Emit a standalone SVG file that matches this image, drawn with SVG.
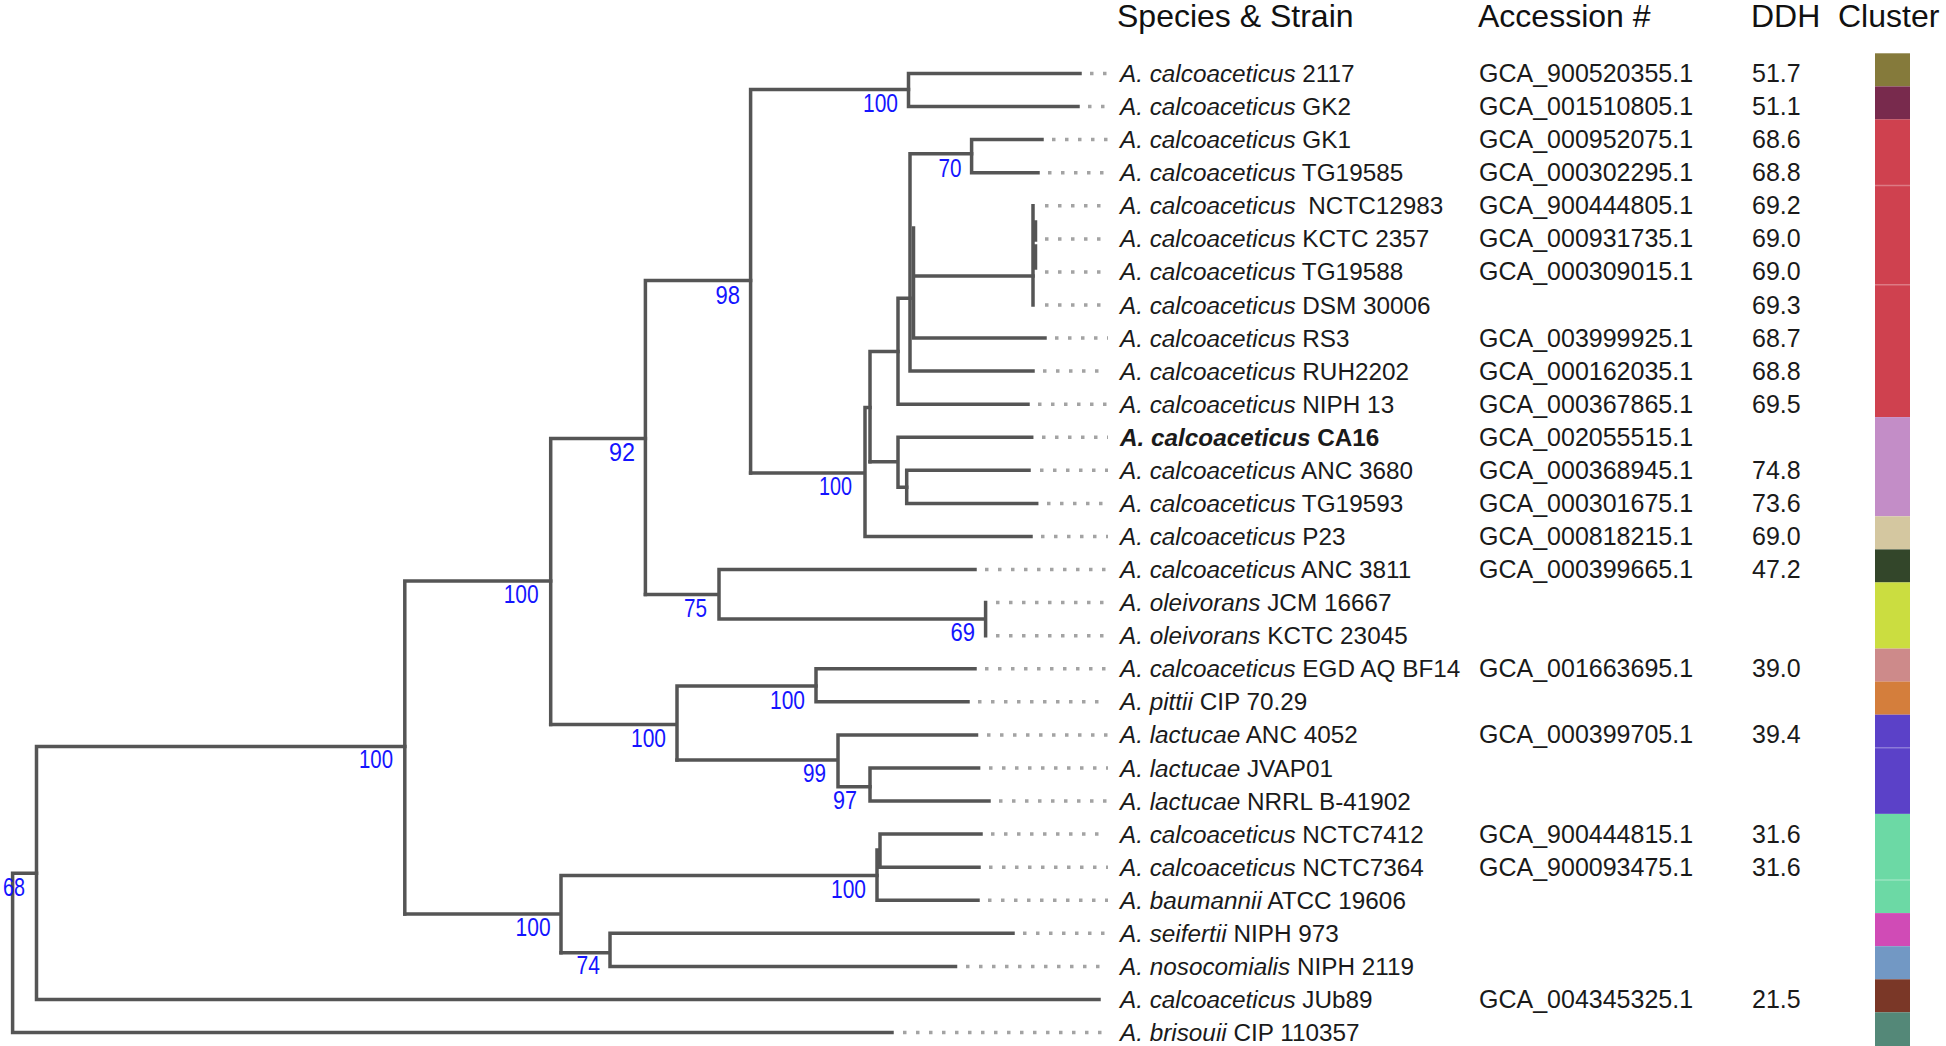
<svg xmlns="http://www.w3.org/2000/svg" width="1946" height="1046" viewBox="0 0 1946 1046">
<style>
.br{fill:none;stroke:#555;stroke-width:3.5;stroke-linecap:square}
.dot{fill:none;stroke:#a3a3a3;stroke-width:3.5;stroke-dasharray:3.5 9.5}
.sup{font-family:"Liberation Sans",Arial,sans-serif;font-size:26px;fill:#1414ff}
.t{font-family:"Liberation Sans",Arial,sans-serif;font-size:25px;fill:#1a1a1a}
.sp{font-family:"Liberation Sans",Arial,sans-serif;font-size:24.3px;fill:#1a1a1a}
.hdr{font-family:"Liberation Sans",Arial,sans-serif;font-size:32px;fill:#111}
.i{font-style:italic}
.sep{stroke:#ffffff;stroke-opacity:0.3;stroke-width:1.5}
</style>
<rect width="1946" height="1046" fill="#ffffff"/>

<g id="headers">
<text class="hdr" x="1117" y="27">Species &amp; Strain</text>
<text class="hdr" x="1478" y="27">Accession #</text>
<text class="hdr" x="1751" y="27">DDH</text>
<text class="hdr" x="1838" y="27">Cluster</text>
</g>

<g id="connectors">
<g class="br">
<path d="M12.6 873.3V1032.5H892M12.6 873.3H36.5"/>
<path d="M36.5 746.4V999.5H1099M36.5 746.4H404.8"/>
<path d="M404.8 581V914M404.8 581H550.7"/>
<path d="M550.7 438.5V724.6M550.7 438.5H645.4"/>
<path d="M645.4 280.6V594.5M645.4 280.6H750.6"/>
<path d="M750.6 89.6V473M750.6 89.6H908.5"/>
<path d="M908.5 73.5V106.6M908.5 73.5H1080M908.5 106.6H1078"/>
<path d="M750.6 473H865M865 407.4V536.5M865 536.5H1031M865 407.4H870"/>
<path d="M870 351.6V461.7M870 351.6H898"/>
<path d="M898 298.3V404.2M898 404.2H1028M898 298.3H910"/>
<path d="M910 153.8V371.1M910 371.1H1033M910 153.8H971.6"/>
<path d="M971.6 139.6V172.7M971.6 139.6H1042M971.6 172.7H1038"/>
<path d="M913.5 228V338.1M913.5 276H1033M913.5 338.1H1045"/>
<path d="M1033 205.8V305M1035.5 222V240M1035.5 246V268"/>
<path d="M870 461.7H898M898 437.3V487.3M898 437.3H1031.7M898 487.3H906.7"/>
<path d="M906.7 470.3V503.4M906.7 470.3H1029M906.7 503.4H1036.7"/>
<path d="M645.4 594.5H719M719 569.6V619M719 569.6H975M719 619H985.6M985.6 602.6V635.7"/>
<path d="M550.7 724.6H677M677 686V759.9M677 686H816"/>
<path d="M816 668.8V701.8M816 668.8H975M816 701.8H968"/>
<path d="M677 759.9H838M838 734.9V786.7M838 734.9H976.5M838 786.7H870"/>
<path d="M870 768V801M870 768H978.6M870 801H989"/>
<path d="M404.8 914H561M561 875.6V952.7M561 875.6H877"/>
<path d="M877 850V900.3M877 850H880M880 834.1V867.2M880 834.1H981M880 867.2H979M877 900.3H978"/>
<path d="M561 952.7H610M610 933.3V966.4M610 933.3H1013M610 966.4H955.5"/>
</g>
<g class="dot">
<path d="M1090 73.5H1108M1088 106.6H1108M1052 139.6H1108M1048 172.7H1108M1045 205.8H1108M1045 238.9H1108M1045 271.9H1108M1045 305H1108M1055 338.1H1108M1043 371.1H1108M1038 404.2H1108M1042 437.3H1108M1040 470.3H1108M1047 503.4H1108M1041 536.5H1108"/>
<path d="M985 569.6H1108M996 602.6H1108M996 635.7H1108M985 668.8H1108M978 701.8H1108M987 734.9H1108M989 768H1108M999 801H1108M991 834.1H1108M989 867.2H1108M988 900.3H1108M1023 933.3H1108M966 966.4H1108M903 1032.5H1108"/>
</g>
</g>

<g id="support">
<text class="sup" x="863" y="111.5" textLength="35" lengthAdjust="spacingAndGlyphs">100</text>
<text class="sup" x="938.6" y="176.5" textLength="23" lengthAdjust="spacingAndGlyphs">70</text>
<text class="sup" x="715.5" y="303.6" textLength="24.5" lengthAdjust="spacingAndGlyphs">98</text>
<text class="sup" x="609" y="460.5" textLength="26" lengthAdjust="spacingAndGlyphs">92</text>
<text class="sup" x="819" y="495" textLength="33" lengthAdjust="spacingAndGlyphs">100</text>
<text class="sup" x="503.7" y="603.2" textLength="35" lengthAdjust="spacingAndGlyphs">100</text>
<text class="sup" x="684" y="617.3" textLength="23" lengthAdjust="spacingAndGlyphs">75</text>
<text class="sup" x="950.5" y="641.4" textLength="24.5" lengthAdjust="spacingAndGlyphs">69</text>
<text class="sup" x="359" y="768" textLength="34" lengthAdjust="spacingAndGlyphs">100</text>
<text class="sup" x="770" y="708.5" textLength="35" lengthAdjust="spacingAndGlyphs">100</text>
<text class="sup" x="631" y="747.4" textLength="35" lengthAdjust="spacingAndGlyphs">100</text>
<text class="sup" x="803" y="781.7" textLength="23" lengthAdjust="spacingAndGlyphs">99</text>
<text class="sup" x="833" y="809" textLength="24" lengthAdjust="spacingAndGlyphs">97</text>
<text class="sup" x="831" y="898.4" textLength="35" lengthAdjust="spacingAndGlyphs">100</text>
<text class="sup" x="515.6" y="936" textLength="35" lengthAdjust="spacingAndGlyphs">100</text>
<text class="sup" x="576.6" y="973.5" textLength="23.4" lengthAdjust="spacingAndGlyphs">74</text>
<text class="sup" x="3" y="895.5" textLength="22" lengthAdjust="spacingAndGlyphs">68</text>
</g>

<g id="cluster-bar">
<rect x="1875" y="53.3" width="35" height="33.1" fill="#857a3b"/>
<rect x="1875" y="86.4" width="35" height="33.1" fill="#782a4d"/>
<rect x="1875" y="119.4" width="35" height="297.7" fill="#cf414f"/>
<rect x="1875" y="417.1" width="35" height="99.2" fill="#c38dc7"/>
<rect x="1875" y="516.3" width="35" height="33.1" fill="#d4c7a0"/>
<rect x="1875" y="549.4" width="35" height="33.1" fill="#33462a"/>
<rect x="1875" y="582.4" width="35" height="66.2" fill="#cbdd40"/>
<rect x="1875" y="648.6" width="35" height="33.1" fill="#cd8a8a"/>
<rect x="1875" y="681.6" width="35" height="33.1" fill="#d47e3c"/>
<rect x="1875" y="714.7" width="35" height="99.2" fill="#5b41c8"/>
<rect x="1875" y="813.9" width="35" height="99.2" fill="#6cd9a5"/>
<rect x="1875" y="913.1" width="35" height="33.1" fill="#d04bb6"/>
<rect x="1875" y="946.2" width="35" height="33.1" fill="#7298c4"/>
<rect x="1875" y="979.3" width="35" height="33.1" fill="#7a3727"/>
<rect x="1875" y="1012.3" width="35" height="33.7" fill="#548878"/>
<path class="sep" d="M1875 185.6H1910M1875 284.8H1910M1875 747.8H1910M1875 880H1910"/>
</g>

<g id="leaf-00"><text class="sp" x="1120" y="82"><tspan class="i">A. calcoaceticus</tspan> 2117</text><text class="t" x="1479" y="82">GCA_900520355.1</text><text class="t" x="1752" y="82">51.7</text></g>
<g id="leaf-01"><text class="sp" x="1120" y="115.1"><tspan class="i">A. calcoaceticus</tspan> GK2</text><text class="t" x="1479" y="115.1">GCA_001510805.1</text><text class="t" x="1752" y="115.1">51.1</text></g>
<g id="leaf-02"><text class="sp" x="1120" y="148.1"><tspan class="i">A. calcoaceticus</tspan> GK1</text><text class="t" x="1479" y="148.1">GCA_000952075.1</text><text class="t" x="1752" y="148.1">68.6</text></g>
<g id="leaf-03"><text class="sp" x="1120" y="181.2"><tspan class="i">A. calcoaceticus</tspan> TG19585</text><text class="t" x="1479" y="181.2">GCA_000302295.1</text><text class="t" x="1752" y="181.2">68.8</text></g>
<g id="leaf-04"><text class="sp" x="1120" y="214.3"><tspan class="i">A. calcoaceticus</tspan><tspan dx="6"> NCTC12983</tspan></text><text class="t" x="1479" y="214.3">GCA_900444805.1</text><text class="t" x="1752" y="214.3">69.2</text></g>
<g id="leaf-05"><text class="sp" x="1120" y="247.4"><tspan class="i">A. calcoaceticus</tspan> KCTC 2357</text><text class="t" x="1479" y="247.4">GCA_000931735.1</text><text class="t" x="1752" y="247.4">69.0</text></g>
<g id="leaf-06"><text class="sp" x="1120" y="280.4"><tspan class="i">A. calcoaceticus</tspan> TG19588</text><text class="t" x="1479" y="280.4">GCA_000309015.1</text><text class="t" x="1752" y="280.4">69.0</text></g>
<g id="leaf-07"><text class="sp" x="1120" y="313.5"><tspan class="i">A. calcoaceticus</tspan> DSM 30006</text><text class="t" x="1752" y="313.5">69.3</text></g>
<g id="leaf-08"><text class="sp" x="1120" y="346.6"><tspan class="i">A. calcoaceticus</tspan> RS3</text><text class="t" x="1479" y="346.6">GCA_003999925.1</text><text class="t" x="1752" y="346.6">68.7</text></g>
<g id="leaf-09"><text class="sp" x="1120" y="379.6"><tspan class="i">A. calcoaceticus</tspan> RUH2202</text><text class="t" x="1479" y="379.6">GCA_000162035.1</text><text class="t" x="1752" y="379.6">68.8</text></g>
<g id="leaf-10"><text class="sp" x="1120" y="412.7"><tspan class="i">A. calcoaceticus</tspan> NIPH 13</text><text class="t" x="1479" y="412.7">GCA_000367865.1</text><text class="t" x="1752" y="412.7">69.5</text></g>
<g id="leaf-11"><text class="sp" x="1120" y="445.8" font-weight="bold" font-size="23.5"><tspan class="i">A. calcoaceticus</tspan> CA16</text><text class="t" x="1479" y="445.8">GCA_002055515.1</text></g>
<g id="leaf-12"><text class="sp" x="1120" y="478.8"><tspan class="i">A. calcoaceticus</tspan> ANC 3680</text><text class="t" x="1479" y="478.8">GCA_000368945.1</text><text class="t" x="1752" y="478.8">74.8</text></g>
<g id="leaf-13"><text class="sp" x="1120" y="511.9"><tspan class="i">A. calcoaceticus</tspan> TG19593</text><text class="t" x="1479" y="511.9">GCA_000301675.1</text><text class="t" x="1752" y="511.9">73.6</text></g>
<g id="leaf-14"><text class="sp" x="1120" y="545"><tspan class="i">A. calcoaceticus</tspan> P23</text><text class="t" x="1479" y="545">GCA_000818215.1</text><text class="t" x="1752" y="545">69.0</text></g>
<g id="leaf-15"><text class="sp" x="1120" y="578.1"><tspan class="i">A. calcoaceticus</tspan> ANC 3811</text><text class="t" x="1479" y="578.1">GCA_000399665.1</text><text class="t" x="1752" y="578.1">47.2</text></g>
<g id="leaf-16"><text class="sp" x="1120" y="611.1"><tspan class="i">A. oleivorans</tspan> JCM 16667</text></g>
<g id="leaf-17"><text class="sp" x="1120" y="644.2"><tspan class="i">A. oleivorans</tspan> KCTC 23045</text></g>
<g id="leaf-18"><text class="sp" x="1120" y="677.3"><tspan class="i">A. calcoaceticus</tspan> EGD AQ BF14</text><text class="t" x="1479" y="677.3">GCA_001663695.1</text><text class="t" x="1752" y="677.3">39.0</text></g>
<g id="leaf-19"><text class="sp" x="1120" y="710.3"><tspan class="i">A. pittii</tspan> CIP 70.29</text></g>
<g id="leaf-20"><text class="sp" x="1120" y="743.4"><tspan class="i">A. lactucae</tspan> ANC 4052</text><text class="t" x="1479" y="743.4">GCA_000399705.1</text><text class="t" x="1752" y="743.4">39.4</text></g>
<g id="leaf-21"><text class="sp" x="1120" y="776.5"><tspan class="i">A. lactucae</tspan> JVAP01</text></g>
<g id="leaf-22"><text class="sp" x="1120" y="809.5"><tspan class="i">A. lactucae</tspan> NRRL B-41902</text></g>
<g id="leaf-23"><text class="sp" x="1120" y="842.6"><tspan class="i">A. calcoaceticus</tspan> NCTC7412</text><text class="t" x="1479" y="842.6">GCA_900444815.1</text><text class="t" x="1752" y="842.6">31.6</text></g>
<g id="leaf-24"><text class="sp" x="1120" y="875.7"><tspan class="i">A. calcoaceticus</tspan> NCTC7364</text><text class="t" x="1479" y="875.7">GCA_900093475.1</text><text class="t" x="1752" y="875.7">31.6</text></g>
<g id="leaf-25"><text class="sp" x="1120" y="908.8"><tspan class="i">A. baumannii</tspan> ATCC 19606</text></g>
<g id="leaf-26"><text class="sp" x="1120" y="941.8"><tspan class="i">A. seifertii</tspan> NIPH 973</text></g>
<g id="leaf-27"><text class="sp" x="1120" y="974.9"><tspan class="i">A. nosocomialis</tspan> NIPH 2119</text></g>
<g id="leaf-28"><text class="sp" x="1120" y="1008"><tspan class="i">A. calcoaceticus</tspan> JUb89</text><text class="t" x="1479" y="1008">GCA_004345325.1</text><text class="t" x="1752" y="1008">21.5</text></g>
<g id="leaf-29"><text class="sp" x="1120" y="1041"><tspan class="i">A. brisouii</tspan> CIP 110357</text></g>
</svg>
